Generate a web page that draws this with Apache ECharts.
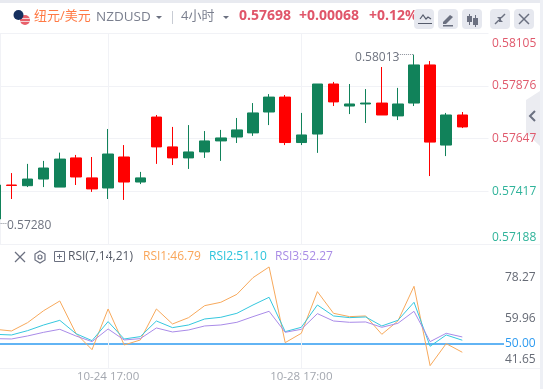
<!DOCTYPE html>
<html>
<head>
<meta charset="utf-8">
<title>NZDUSD</title>
<style>
  html, body { margin: 0; padding: 0; background: #fff; }
  #chart { width: 543px; height: 389px; }
</style>
</head>
<body>
<div id="chart"></div>
<script src="https://cdn.jsdelivr.net/npm/echarts@6/dist/echarts.min.js"></script>
<script>
// bars, 4 hours each, the weekend gap sits between 10-25 21:00 and 10-28 01:00
const categories = [
  "10-23 13:00", "10-23 17:00", "10-23 21:00", "10-24 01:00", "10-24 05:00", "10-24 09:00",
  "10-24 13:00", "10-24 17:00", "10-24 21:00", "10-25 01:00", "10-25 05:00", "10-25 09:00",
  "10-25 13:00", "10-25 17:00", "10-25 21:00", "10-28 01:00", "10-28 05:00", "10-28 09:00",
  "10-28 13:00", "10-28 17:00", "10-28 21:00", "10-29 01:00", "10-29 05:00", "10-29 09:00",
  "10-29 13:00", "10-29 17:00", "10-29 21:00", "10-30 01:00", "10-30 05:00", "10-30 09:00",
  "10-30 13:00"
];
const labelledBars = ["10-24 17:00", "10-28 17:00"];

// open, close, low, high
const candles = [
  [0.57445, 0.57297, 0.57280, 0.57450],
  [0.57443, 0.57445, 0.57384, 0.57497],
  [0.57471, 0.57442, 0.57436, 0.57537],
  [0.57519, 0.57471, 0.57436, 0.57550],
  [0.57558, 0.57436, 0.57436, 0.57586],
  [0.57480, 0.57563, 0.57445, 0.57576],
  [0.57428, 0.57476, 0.57415, 0.57567],
  [0.57580, 0.57432, 0.57384, 0.57689],
  [0.57458, 0.57567, 0.57380, 0.57619],
  [0.57476, 0.57458, 0.57449, 0.57502],
  [0.57611, 0.57741, 0.57537, 0.57750],
  [0.57563, 0.57611, 0.57532, 0.57698],
  [0.57589, 0.57563, 0.57515, 0.57706],
  [0.57637, 0.57589, 0.57563, 0.57680],
  [0.57650, 0.57637, 0.57550, 0.57685],
  [0.57685, 0.57654, 0.57628, 0.57737],
  [0.57759, 0.57672, 0.57659, 0.57802],
  [0.57828, 0.57763, 0.57706, 0.57841],
  [0.57630, 0.57828, 0.57619, 0.57837],
  [0.57663, 0.57630, 0.57619, 0.57759],
  [0.57885, 0.57667, 0.57585, 0.57885],
  [0.57807, 0.57885, 0.57789, 0.57894],
  [0.57798, 0.57789, 0.57754, 0.57885],
  [0.57802, 0.57798, 0.57715, 0.57863],
  [0.57750, 0.57802, 0.57750, 0.57959],
  [0.57798, 0.57746, 0.57728, 0.57868],
  [0.57968, 0.57802, 0.57789, 0.58013],
  [0.57632, 0.57968, 0.57484, 0.57985],
  [0.57750, 0.57619, 0.57571, 0.57759],
  [0.57698, 0.57750, 0.57693, 0.57763]
];

const rsi1 = [55.01, 54.42, 57.40, 61.69, 65.15, 53.58, 47.73, 62.29, 49.40, 51.19, 62.29, 56.92, 59.19, 63.48, 64.68,
  67.54, 73.51, 77.33, 50.24, 53.58, 68.50, 60.74, 59.55, 59.79, 53.22, 57.99, 70.41, 42.00, 49.88, 46.79];
const rsi2 = [53.22, 52.98, 54.53, 56.56, 58.23, 53.46, 50.95, 57.76, 51.55, 52.39, 57.99, 55.61, 56.56, 58.71, 59.31,
  60.74, 63.72, 66.47, 54.18, 55.73, 63.72, 59.79, 59.19, 59.43, 56.21, 58.23, 64.68, 48.93, 52.98, 51.10];
const rsi3 = [51.67, 51.55, 52.63, 53.94, 55.01, 52.63, 50.60, 55.13, 51.19, 51.67, 55.49, 54.06, 54.77, 56.21, 56.56,
  57.52, 59.55, 61.46, 53.94, 55.01, 60.62, 57.99, 57.52, 57.64, 55.73, 57.16, 61.46, 50.60, 53.58, 52.27];

const priceTicks = [0.57188, 0.57417, 0.57647, 0.57876, 0.58105];
const rsiTicks = [41.65, 59.96, 78.27];
const rsiLevel = [50];

const FONT = '"Open Sans", "Noto Sans CJK SC", sans-serif';
const GRID = "#f1f2f6";
const UP = "#ff0000";
const DOWN = "#11825a";
const ICON = "#6b7080";

function headText(x, y, text, color, size, weight) {
  return {
    type: "text", x: x, y: y,
    style: { text: text, fill: color, font: (weight || "normal") + " " + (size || 14) + "px " + FONT, textVerticalAlign: "middle" }
  };
}
function iconBox(x) {
  return { type: "rect", shape: { x: x, y: 9, width: 20, height: 20, r: 4 }, style: { fill: "#e6e8ef" } };
}
function stroke(points, color, width) {
  return { type: "polyline", shape: { points: points }, style: { stroke: color || ICON, lineWidth: width || 1.5, fill: "none" } };
}
function block(x, y, w, h, color) {
  return { type: "rect", shape: { x: x, y: y, width: w, height: h }, style: { fill: color || ICON } };
}
function caret(x, y) {
  return { type: "polygon", shape: { points: [[x, y], [x + 6, y], [x + 3, y + 3]] }, style: { fill: "#6b7080" } };
}

const chrome = [
  block(0, 0, 543, 3, "#e8eaf0"),
  block(540, 0, 3, 389, "#eef0f5"),
  block(0, 244, 540, 1, GRID),
  block(0, 368, 540, 1, GRID),

  // flag
  { type: "circle", shape: { cx: 25, cy: 20, r: 5 }, style: { fill: "#e8606a" } },
  block(20, 18, 10, 1, "#f4d5d8"),
  block(20, 21, 10, 1, "#f4d5d8"),
  { type: "circle", shape: { cx: 18.5, cy: 15, r: 5 }, style: { fill: "#16305f" } },

  headText(34, 16, "纽元/美元", "#ff7a45", 13),
  headText(96, 17, "NZDUSD", "#7a7f8e", 13.5),
  caret(156, 16),
  block(172, 11, 1, 13, "#c8ccd4"),
  headText(181, 16, "4小时", "#7a7f8e", 13),
  caret(223, 16),
  headText(239, 16, "0.57698", "#e0566a", 14, "bold"),
  headText(299, 16, "+0.00068", "#e0566a", 14, "bold"),
  headText(369, 16, "+0.12%", "#e0566a", 14, "bold"),

  // toolbar
  iconBox(414), iconBox(438), iconBox(462), iconBox(490), iconBox(514),
  stroke([[420, 19], [423, 15], [426, 19], [428, 17], [431, 19]], "#555b6b", 1.2),
  block(418, 23, 14, 1, "#555b6b"),
  { type: "polygon", shape: { points: [[443, 22], [450, 15], [453, 17], [446, 24], [443, 24]] }, style: { fill: ICON } },
  block(443, 25, 10, 1.5, ICON),
  block(469, 14, 1, 11), block(467, 16, 5, 6),
  block(475, 15, 1, 12), block(473, 18, 5, 7),
  stroke([[495, 24], [499, 20]]), stroke([[501, 18], [505, 14]]),
  { type: "polygon", shape: { points: [[497, 17], [501, 17], [501, 21]] }, style: { fill: ICON } },
  { type: "polygon", shape: { points: [[503, 22], [499, 22], [499, 18]] }, style: { fill: ICON } },
  stroke([[519, 14], [529, 24]]), stroke([[529, 14], [519, 24]]),

  // collapse tab
  { type: "polygon", shape: { points: [[526, 100], [540, 91], [540, 146], [526, 133]] }, style: { fill: "#ebecf1" } },
  stroke([[535, 111], [530, 116], [535, 121]], "#6b7080", 2),

  // rsi pane header
  stroke([[15, 252], [25, 262]], "#6b7080", 1.2), stroke([[25, 252], [15, 262]], "#6b7080", 1.2),
  { type: "polygon", shape: { points: [[40, 251], [45, 254], [45, 260], [40, 263], [35, 260], [35, 254]] }, style: { stroke: "#6b7080", fill: "none", lineWidth: 1.2 } },
  { type: "circle", shape: { cx: 40, cy: 257, r: 2 }, style: { stroke: "#6b7080", fill: "none", lineWidth: 1.2 } },
  { type: "rect", shape: { x: 54.5, y: 251.5, width: 10, height: 10 }, style: { stroke: "#6b7080", fill: "none", lineWidth: 1 } },
  block(57, 256, 5, 1, "#6b7080"), block(59, 254, 1, 5, "#6b7080"),
  headText(68, 257, "RSI(7,14,21)", "#555a66", 12),
  headText(143, 257, "RSI1:" + rsi1[rsi1.length - 1].toFixed(2), "#f9a65a", 12),
  headText(209, 257, "RSI2:" + rsi2[rsi2.length - 1].toFixed(2), "#2ec4dc", 12),
  headText(275, 257, "RSI3:" + rsi3[rsi3.length - 1].toFixed(2), "#a98ce6", 12)
];

const myChart = echarts.init(document.getElementById("chart"), null, { renderer: "canvas" });

const showLabelled = function (index, value) {
  return labelledBars.indexOf(value) >= 0;
};
const hidden = { axisLine: { show: false }, axisTick: { show: false }, axisLabel: { show: false }, splitLine: { show: false } };

function rsiSeries(name, data, color) {
  return {
    name: name, type: "line", xAxisIndex: 3, yAxisIndex: 4, data: data, symbol: "none", smooth: false,
    lineStyle: { color: color, width: 1 }, animation: false
  };
}

myChart.setOption({
  animation: false,
  textStyle: { fontFamily: FONT },
  grid: [
    { left: 0, top: 33.5, width: 488.5, height: 210.5, outerBoundsMode: "none" },  // price frame
    { left: -4.6, top: 33.5, width: 483, height: 210.5, outerBoundsMode: "none" }, // candles
    { left: 0, top: 250, width: 504, height: 118, outerBoundsMode: "none" },       // rsi frame
    { left: -4.6, top: 250, width: 483, height: 118, outerBoundsMode: "none" }     // rsi lines
  ],
  xAxis: [
    Object.assign({ type: "value", gridIndex: 0, min: 0, max: 1 }, hidden),
    {
      type: "category", gridIndex: 1, data: categories, boundaryGap: false,
      axisLine: { show: false }, axisTick: { show: false }, axisLabel: { show: false },
      splitLine: { show: true, interval: showLabelled, lineStyle: { color: GRID } }
    },
    Object.assign({ type: "value", gridIndex: 2, min: 0, max: 1 }, hidden),
    {
      type: "category", gridIndex: 3, data: categories, boundaryGap: false,
      axisLine: { show: false }, axisTick: { show: false },
      axisLabel: { show: true, interval: showLabelled, color: "#a3a7af", fontSize: 11.5, margin: 3, fontFamily: FONT },
      splitLine: { show: true, interval: showLabelled, lineStyle: { color: GRID } }
    }
  ],
  yAxis: [
    {
      type: "value", gridIndex: 0, position: "right", min: 0.57188, max: 0.58105, scale: true,
      axisLine: { show: true, lineStyle: { color: GRID } },
      axisTick: { show: false, customValues: priceTicks },
      axisLabel: {
        show: true, customValues: priceTicks, margin: 3.5, fontSize: 12, fontFamily: FONT, padding: [4, 0, 0, 0],
        verticalAlignMaxLabel: "top", verticalAlignMinLabel: "bottom",
        formatter: function (v) { return v.toFixed(5); },
        color: function (v) { return v > 0.575 ? "#e0596c" : "#2fb39a"; }
      },
      splitLine: { show: true, lineStyle: { color: GRID } }
    },
    Object.assign({ type: "value", gridIndex: 1, min: 0.57188, max: 0.58105, scale: true }, hidden),
    {
      type: "value", gridIndex: 2, position: "right", min: 38.08, max: 90.77, scale: true,
      axisLine: { show: false }, axisTick: { show: false, customValues: rsiTicks }, splitLine: { show: false },
      axisLabel: {
        show: true, customValues: rsiTicks, margin: 1, fontSize: 12, fontFamily: FONT, color: "#666b76",
        formatter: function (v) { return v.toFixed(2); }
      }
    },
    {
      type: "value", gridIndex: 2, position: "right", min: 41.16, max: 83.4, scale: true,
      axisLine: { show: false }, axisTick: { show: false, customValues: rsiLevel },
      splitLine: { show: true, lineStyle: { color: "#2e9bf0", width: 1.5 } },
      axisLabel: {
        show: true, customValues: rsiLevel, margin: 1, fontSize: 12, fontFamily: FONT, color: "#2e9bf0",
        formatter: function (v) { return v.toFixed(2); }
      }
    },
    Object.assign({ type: "value", gridIndex: 3, min: 41.16, max: 83.4, scale: true }, hidden)
  ],
  series: [
    {
      type: "candlestick", xAxisIndex: 1, yAxisIndex: 1, data: candles, barWidth: 11,
      itemStyle: { color: UP, color0: DOWN, borderColor: UP, borderColor0: DOWN, borderWidth: 1 },
      markLine: {
        silent: true, symbol: "none", animation: false, label: { show: false },
        lineStyle: { color: "#8a8f99", type: "dotted", width: 1 },
        data: [
          [{ coord: [categories[25], 0.58013] }, { coord: [categories[26], 0.58013] }],
          [{ coord: [categories[0], 0.5728] }, { coord: [categories[1], 0.5728] }]
        ]
      },
      markPoint: {
        silent: true, symbol: "circle", symbolSize: 1, animation: false, z: 10,
        itemStyle: { color: "transparent" },
        data: [
          {
            coord: [categories[25], 0.58013], value: 0.58013,
            label: { show: true, position: "left", distance: 0, offset: [2, 3], color: "#6f7480", fontSize: 12, fontFamily: FONT, formatter: "0.58013" }
          },
          {
            coord: [categories[1], 0.5728], value: 0.5728,
            label: { show: true, position: "right", distance: 0, offset: [-5, 3], color: "#6f7480", fontSize: 12, fontFamily: FONT, backgroundColor: "#fff", formatter: "0.57280" }
          }
        ]
      }
    },
    rsiSeries("RSI1", rsi1, "#f7a95c"),
    rsiSeries("RSI2", rsi2, "#35c7de"),
    rsiSeries("RSI3", rsi3, "#a98be8")
  ],
  graphic: { elements: chrome }
});
</script>
</body>
</html>
